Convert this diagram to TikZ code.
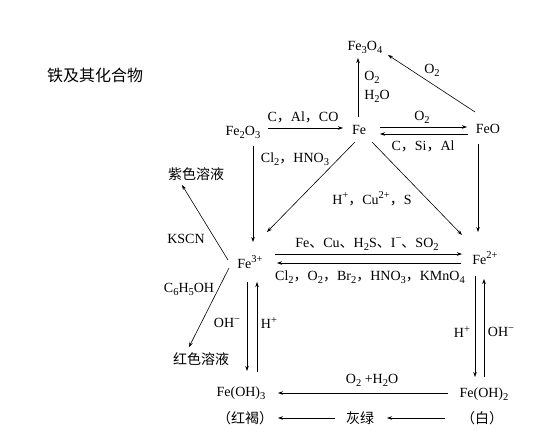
\documentclass[tikz,border=0pt]{standalone}
\usepackage{fontspec}
\setmainfont{Liberation Serif}
\newfontfamily\cjk{Noto Sans CJK SC}
\usetikzlibrary{arrows.meta}
\newcommand\mysb[1]{\raisebox{-0.45ex}{\fontsize{10.5}{12}\selectfont #1}}
\newcommand\mysp[1]{\raisebox{0.85ex}{\fontsize{10.5}{12}\selectfont #1}}
\newcommand\cmm{{\cjk ，}}
\newcommand\dun{{\cjk 、}}
\begin{document}
\begin{tikzpicture}[x=1pt,y=-1pt,
  every node/.style={inner sep=0pt,font=\fontsize{14}{16}\selectfont},
  zh/.style={font=\cjk\fontsize{14}{16}\selectfont},
  ttl/.style={font=\cjk\fontsize{16}{18}\selectfont},
  arr/.style={-{Stealth[length=5pt,width=3.5pt]},line width=0.6pt}]
\useasboundingbox[fill=white] (0,0) rectangle (556,438);
% main nodes
\node[ttl] (title) at (95,75) {铁及其化合物};
\node (Fe3O4) at (365,47) {Fe\mysb{3}O\mysb{4}};
\node (Fe) at (359,130) {Fe};
\node (Fe2O3) at (243,132) {Fe\mysb{2}O\mysb{3}};
\node (FeO) at (488,129) {FeO};
\node (Fe3) at (250,262) {Fe\mysp{3+}};
\node (Fe2) at (485,258) {Fe\mysp{2+}};
\node (FeOH3) at (241,393) {Fe(OH)\mysb{3}};
\node (FeOH2) at (484,394) {Fe(OH)\mysb{2}};
\node[zh] (hh) at (245,418) {（红褐）};
\node[zh] (hl) at (360,418) {灰绿};
\node[zh] (bai) at (482,418) {（白）};
\node[zh] (zise) at (196,174) {紫色溶液};
\node[zh] (hong) at (201,359) {红色溶液};
% labels
\node (l1a) at (372,77) {O\mysb{2}};
\node (l1b) at (377,96) {H\mysb{2}O};
\node (l2) at (432,70) {O\mysb{2}};
\node (l3) at (303,117) {C\cmm Al\cmm CO};
\node (l4) at (422,117) {O\mysb{2}};
\node (l5) at (423,146) {C\cmm Si\cmm Al};
\node (l7) at (372,199) {H\mysp{+}\cmm Cu\mysp{2+}\cmm S};
\node (l8) at (295,159) {Cl\mysb{2}\cmm HNO\mysb{3}};
\node (l10) at (367,244) {Fe\dun Cu\dun H\mysb{2}S\dun I\mysp{−}\dun SO\mysb{2}};
\node (l11) at (370,277) {Cl\mysb{2}\cmm O\mysb{2}\cmm Br\mysb{2}\cmm HNO\mysb{3}\cmm KMnO\mysb{4}};
\node (kscn) at (186,239) {KSCN};
\node (phoh) at (189,289) {C\mysb{6}H\mysb{5}OH};
\node (oh1) at (227,323) {OH\mysp{−}};
\node (h1) at (269,323) {H\mysp{+}};
\node (h2) at (462,332) {H\mysp{+}};
\node (oh2) at (501,332) {OH\mysp{−}};
\node (l18) at (372,380) {O\mysb{2} +H\mysb{2}O};
% connectors
\draw[arr] ([shift={(-1,-13)}]Fe.center) -- ([shift={(-7,11)}]Fe3O4.center);
\draw[arr] ([shift={(-13,-17)}]FeO.center) -- ([shift={(23,8)}]Fe3O4.center);
\draw[arr] ([shift={(25,-4)}]Fe2O3.center) -- ([shift={(-16,-2)}]Fe.center);
\draw[arr] ([shift={(21,-3)}]Fe.center) -- ([shift={(-21,-2)}]FeO.center);
\draw[arr] ([shift={(-20,5)}]FeO.center) -- ([shift={(21,4)}]Fe.center);
\draw[arr] ([shift={(-4,12)}]Fe.center) -- ([shift={(17,-30)}]Fe3.center);
\draw[arr] ([shift={(13,12)}]Fe.center) -- ([shift={(-23,-23)}]Fe2.center);
\draw[arr] ([shift={(10,14)}]Fe2O3.center) -- ([shift={(3,-20)}]Fe3.center);
\draw[arr] ([shift={(-10,15)}]FeO.center) -- ([shift={(-7,-26)}]Fe2.center);
\draw[arr] ([shift={(25,-8)}]Fe3.center) -- ([shift={(-23,-4)}]Fe2.center);
\draw[arr] ([shift={(-24,5)}]Fe2.center) -- ([shift={(27,1)}]Fe3.center);
\draw[arr] ([shift={(-22,-2)}]Fe3.center) -- ([shift={(-14,11)}]zise.center);
\draw[arr] ([shift={(-21,6)}]Fe3.center) -- ([shift={(-12,-12)}]hong.center);
\draw[arr] ([shift={(-3,20)}]Fe3.center) -- ([shift={(6,-22)}]FeOH3.center);
\draw[arr] ([shift={(16,-21)}]FeOH3.center) -- ([shift={(7,20)}]Fe3.center);
\draw[arr] ([shift={(-10,18)}]Fe2.center) -- ([shift={(-9,-17)}]FeOH2.center);
\draw[arr] ([shift={(0,-17)}]FeOH2.center) -- ([shift={(-1,21)}]Fe2.center);
\draw[arr] ([shift={(-36,-1)}]FeOH2.center) -- ([shift={(37,0)}]FeOH3.center);
\draw[arr] ([shift={(-37,0)}]bai.center) -- ([shift={(27,0)}]hl.center);
\draw[arr] ([shift={(-25,0)}]hl.center) -- ([shift={(33,0)}]hh.center);
\end{tikzpicture}
\end{document}
